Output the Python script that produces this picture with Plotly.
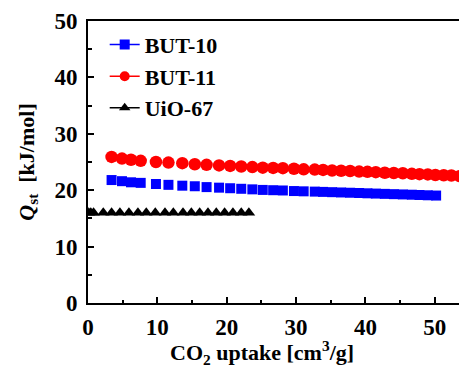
import plotly.graph_objects as go

# BUT-11 (red circles)
but11_x = [3.4, 4.9, 6.2, 7.6, 9.8, 11.6, 13.6, 15.4, 17.1, 18.9, 20.5, 22.1, 23.7, 25.2,
           26.7, 28.1, 29.7, 31.1, 32.7, 33.9, 35.2, 36.5, 37.8, 39.1, 40.3, 41.5, 42.8,
           44.1, 45.4, 46.7, 47.8, 49.0, 50.1, 51.3, 52.4, 53.6]
but11_y = [25.9, 25.6, 25.4, 25.2, 25.0, 24.9, 24.8, 24.6, 24.5, 24.4, 24.3, 24.2, 24.1, 24.0,
           23.95, 23.9, 23.8, 23.7, 23.65, 23.6, 23.5, 23.45, 23.4, 23.3, 23.25, 23.2, 23.1,
           23.05, 23.0, 22.9, 22.85, 22.8, 22.7, 22.65, 22.6, 22.5]

# BUT-10 (blue squares)
but10_x = [3.4, 4.9, 6.2, 7.6, 9.8, 11.6, 13.6, 15.4, 17.1, 18.9, 20.5, 22.1, 23.7, 25.2,
           26.7, 28.1, 29.7, 31.1, 32.7, 33.9, 35.2, 36.5, 37.8, 39.1, 40.3, 41.5, 42.8,
           44.1, 45.4, 46.7, 47.8, 49.0, 50.2]
but10_y = [21.8, 21.6, 21.4, 21.3, 21.1, 20.95, 20.8, 20.7, 20.55, 20.45, 20.35, 20.25, 20.15, 20.05,
           20.0, 19.95, 19.85, 19.8, 19.75, 19.7, 19.65, 19.6, 19.55, 19.5, 19.45, 19.4, 19.35,
           19.3, 19.25, 19.2, 19.15, 19.1, 19.05]

# UiO-67 (black triangles)
uio67_x = [0.1, 0.4, 0.8, 2.2, 3.4, 4.6, 5.9, 7.2, 8.4, 9.7, 11.1, 12.3, 13.7, 14.9, 16.1,
           17.3, 18.5, 19.7, 20.9, 22.1, 23.2]
uio67_y = [16.0] * len(uio67_x)

tick_vals = [0, 10, 20, 30, 40, 50]
tick_text = ["<b>%d</b>" % v for v in tick_vals]

series = [
    ("BUT-10", but10_x, but10_y, "#0000ff", "square", 10),
    ("BUT-11", but11_x, but11_y, "#ff0000", "circle", 12.5),
    ("UiO-67", uio67_x, uio67_y, "#000000", "triangle-up", 11),
]

FONT = "Liberation Serif, Times New Roman, serif"
fig = go.Figure()
for name, xs, ys, col, sym, sz in series:
    fig.add_trace(go.Scatter(x=xs, y=ys, mode="markers", showlegend=False,
                             marker=dict(symbol=sym, size=sz, color=col, line=dict(width=0))))
for name, xs, ys, col, sym, sz in series:
    fig.add_trace(go.Scatter(x=[None], y=[None], mode="lines+markers", name="<b>%s</b>" % name,
                             line=dict(color=col, width=1.5),
                             marker=dict(symbol=sym, size=10, color=col)))

fig.update_layout(
    width=459, height=368,
    margin=dict(l=88, r=0, t=21, b=65, autoexpand=False),
    plot_bgcolor="white", paper_bgcolor="white",
    font=dict(family=FONT, size=22, color="black"),
    legend=dict(x=0.045, y=0.99, xanchor="left", yanchor="top",
                bgcolor="rgba(0,0,0,0)", font=dict(size=22, family=FONT),
                tracegroupgap=0, itemwidth=30),
    xaxis=dict(range=[0, 53.5], tickvals=tick_vals, ticktext=tick_text, ticks="inside",
               ticklen=6, tickwidth=2, tickcolor="black", automargin=False,
               minor=dict(tickvals=[5, 15, 25, 35, 45], ticks="inside", ticklen=3, tickwidth=2, tickcolor="black"),
               showline=True, linewidth=2, linecolor="black", mirror=True,
               showgrid=False, zeroline=False,
               tickfont=dict(size=23, family=FONT), ticklabelstandoff=2),
    yaxis=dict(range=[0, 50], tickvals=tick_vals, ticktext=tick_text, ticks="inside",
               ticklen=6, tickwidth=2, tickcolor="black", automargin=False,
               minor=dict(tickvals=[5, 15, 25, 35, 45], ticks="inside", ticklen=4, tickwidth=2, tickcolor="black"),
               showline=True, linewidth=2, linecolor="black", mirror=False,
               showgrid=False, zeroline=False,
               tickfont=dict(size=23, family=FONT), ticklabelstandoff=4,
               title=dict(text="<b><i>Q</i><sub>st</sub>  [kJ/mol]</b>", standoff=14,
                          font=dict(size=22, family=FONT))),
)
fig.add_annotation(text="<b>CO<sub>2</sub> uptake [cm<sup>3</sup>/g]</b>", xref="paper", yref="paper",
                   x=0.47, y=-0.175, xanchor="center", yanchor="middle", showarrow=False,
                   font=dict(size=22, family=FONT))

fig.write_html("out.html", config={"displayModeBar": False},
               post_script="document.body.style.margin='0';document.body.style.overflow='hidden';")
